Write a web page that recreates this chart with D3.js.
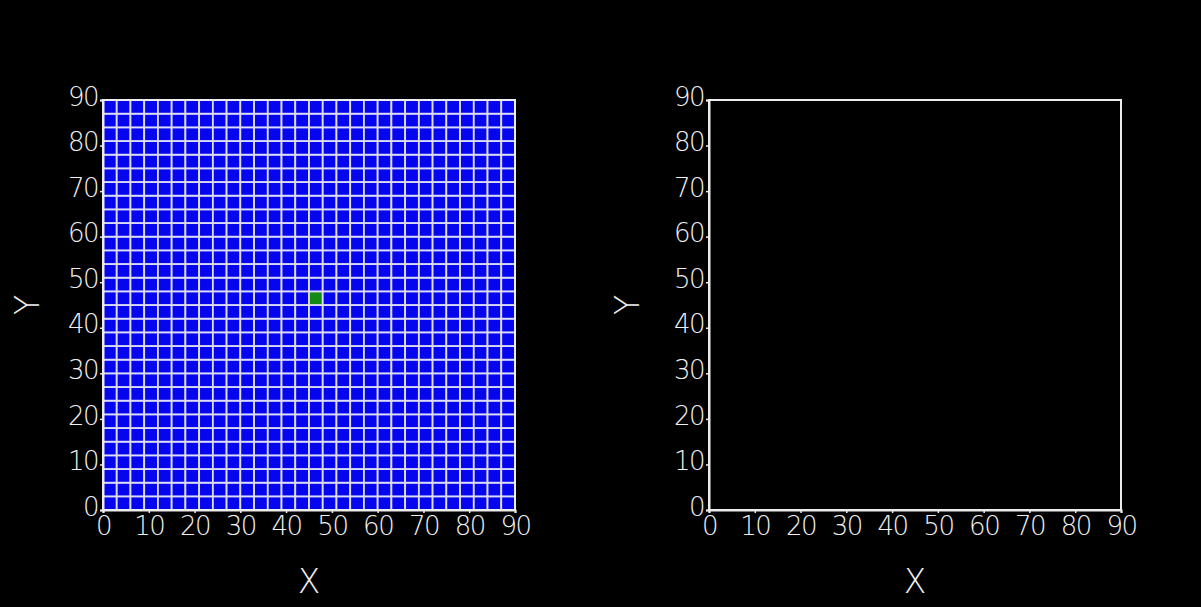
<!DOCTYPE html>
<html>
<head>
<meta charset="utf-8">
<script src="https://cdn.jsdelivr.net/npm/d3@7"></script>
<style>
  body { margin: 0; background: #000; }
  text { font-family: "DejaVu Sans", sans-serif; }
</style>
</head>
<body>
<div id="chart"></div>
<script>
// chart values
var xTicks = [0, 10, 20, 30, 40, 50, 60, 70, 80, 90];
var yTicks = [0, 10, 20, 30, 40, 50, 60, 70, 80, 90];
var cellEdges = [0, 3, 6, 9, 12, 15, 18, 21, 24, 27, 30, 33, 36, 39, 42, 45,
                 48, 51, 54, 57, 60, 63, 66, 69, 72, 75, 78, 81, 84, 87, 90];
var activeCells = [[45, 45]];   // lower-left corner of the lit cell
var panelNames = ["grid", "empty"];

var W = 1201, H = 607;
var svg = d3.select("#chart").append("svg")
    .attr("width", W)
    .attr("height", H)
    .style("background-color", "#000");

var panelLeft = [103, 709],
    plotW = 412,
    plotTop = 100,
    plotH = 410;

panelNames.forEach(function(name, p) {
  var g = svg.append("g")
      .attr("transform", "translate(" + panelLeft[p] + "," + plotTop + ")");

  var x = d3.scaleLinear().domain([0, 90]).range([0, plotW]);
  var y = d3.scaleLinear().domain([0, 90]).range([plotH, 0]);

  if (name == "grid") {
    var cells = [];
    for (var i = 0; i < cellEdges.length - 1; i++) {
      for (var j = 0; j < cellEdges.length - 1; j++) {
        var x0 = cellEdges[i], y0 = cellEdges[j];
        var on = activeCells.some(function(c) { return c[0] == x0 && c[1] == y0; });
        cells.push({x0: x0, x1: cellEdges[i + 1], y0: y0, y1: cellEdges[j + 1], on: on});
      }
    }
    g.append("g").selectAll("rect")
      .data(cells)
      .enter().append("rect")
        .attr("x", function(d) { return x(d.x0); })
        .attr("y", function(d) { return y(d.y1); })
        .attr("width", function(d) { return x(d.x1) - x(d.x0); })
        .attr("height", function(d) { return y(d.y0) - y(d.y1); })
        .attr("fill", function(d) { return d.on ? "#138a13" : "#0606ee"; })
        .attr("stroke", "#dcdcf6")
        .attr("stroke-width", 1.8);
  }

  // frame
  g.append("rect")
    .attr("width", plotW)
    .attr("height", plotH)
    .attr("fill", "none")
    .attr("stroke", "#ececec")
    .attr("stroke-width", 2);

  var xAxis = g.append("g")
      .attr("transform", "translate(0," + plotH + ")")
      .call(d3.axisBottom(x).tickValues(xTicks).tickSize(3).tickPadding(4));
  var yAxis = g.append("g")
      .call(d3.axisLeft(y).tickValues(yTicks).tickSize(3).tickPadding(2));

  [xAxis, yAxis].forEach(function(a) {
    a.select(".domain").attr("stroke", "#ececec").attr("stroke-width", 2);
    a.selectAll(".tick line").attr("stroke", "#ececec").attr("stroke-width", 1.5);
    a.selectAll(".tick text")
      .attr("fill", "#f0f0f0")
      .style("font-size", "26px")
      .style("font-weight", "200")
      .style("letter-spacing", "-1.5px")
      .style("font-family", "'DejaVu Sans', sans-serif");
  });
  yAxis.selectAll(".tick text").attr("dy", "0.2em");

  g.append("text")
    .attr("x", plotW / 2)
    .attr("y", plotH + 83)
    .attr("text-anchor", "middle")
    .attr("fill", "#f0f0f0")
    .style("font-size", "33px")
    .style("font-weight", "200")
    .text("X");

  g.append("text")
    .attr("transform", "translate(" + (-panelLeft[p] + 27 + (p == 1 ? 600 : 0)) + "," + (plotH / 2) + ") rotate(-90)")
    .attr("text-anchor", "middle")
    .attr("dominant-baseline", "central")
    .attr("fill", "#f0f0f0")
    .style("font-size", "33px")
    .style("font-weight", "200")
    .text("Y");
});
</script>
</body>
</html>
